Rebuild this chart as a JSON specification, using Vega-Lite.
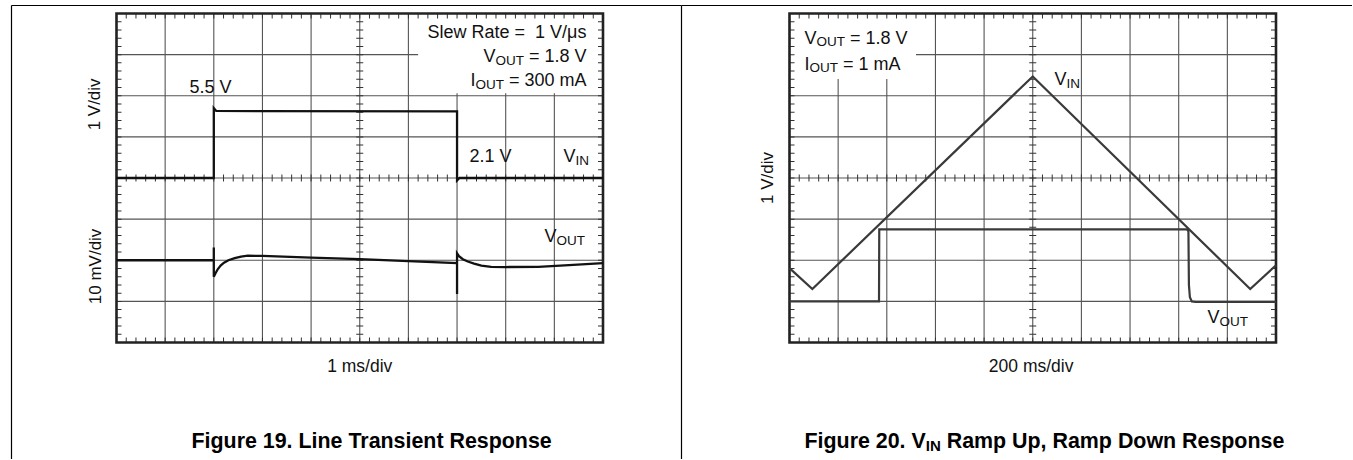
{
  "$schema": "https://vega.github.io/schema/vega-lite/v6.json",
  "background": "white",
  "padding": {"left": 11, "top": 5, "right": 0, "bottom": 0},
  "bounds": "flush",
  "spacing": 0,
  "config": {"view": {"stroke": null}, "font": "Liberation Sans"},
  "datasets": {
    "frame": [
      {"part": "gv", "x": 1, "y": -4, "y2": 4}, {"part": "gv", "x": 2, "y": -4, "y2": 4}, {"part": "gv", "x": 3, "y": -4, "y2": 4},
      {"part": "gv", "x": 4, "y": -4, "y2": 4}, {"part": "gv", "x": 5, "y": -4, "y2": 4}, {"part": "gv", "x": 6, "y": -4, "y2": 4},
      {"part": "gv", "x": 7, "y": -4, "y2": 4}, {"part": "gv", "x": 8, "y": -4, "y2": 4}, {"part": "gv", "x": 9, "y": -4, "y2": 4},
      {"part": "gh", "x": 0, "x2": 10, "y": -3}, {"part": "gh", "x": 0, "x2": 10, "y": -2}, {"part": "gh", "x": 0, "x2": 10, "y": -1},
      {"part": "gh", "x": 0, "x2": 10, "y": 0}, {"part": "gh", "x": 0, "x2": 10, "y": 1}, {"part": "gh", "x": 0, "x2": 10, "y": 2},
      {"part": "gh", "x": 0, "x2": 10, "y": 3},
      {"part": "tb", "x": 0, "x2": 10, "y": -4},
      {"part": "tt", "x": 0, "x2": 10, "y": 4},
      {"part": "tl", "x": 0, "y": -4, "y2": 4},
      {"part": "tr", "x": 10, "y": -4, "y2": 4},
      {"part": "ch", "x": 0, "x2": 10, "y": 0},
      {"part": "cv", "x": 5, "y": -4, "y2": 4},
      {"part": "box", "x": 0, "x2": 10, "y": -4, "y2": 4}
    ],
    "wb19": [{"x": 6.2, "x2": 10, "y": 2.06, "y2": 4}],
    "wb20": [{"x": 0, "x2": 2.6, "y": 2.41, "y2": 4}],
    "t19": [
      {"s": "VIN", "x": 0, "y": 0}, {"s": "VIN", "x": 2.0, "y": 0}, {"s": "VIN", "x": 2.0, "y": 1.70}, {"s": "VIN", "x": 2.05, "y": 1.63},
      {"s": "VIN", "x": 7.0, "y": 1.62}, {"s": "VIN", "x": 7.0, "y": -0.06}, {"s": "VIN", "x": 7.05, "y": 0}, {"s": "VIN", "x": 10, "y": 0},
      {"s": "VOUT", "x": 0, "y": -2.0}, {"s": "VOUT", "x": 2.0, "y": -2.0}, {"s": "VOUT", "x": 2.0, "y": -1.69}, {"s": "VOUT", "x": 2.0, "y": -2.40},
      {"s": "VOUT", "x": 2.03, "y": -2.33}, {"s": "VOUT", "x": 2.08, "y": -2.22}, {"s": "VOUT", "x": 2.14, "y": -2.13}, {"s": "VOUT", "x": 2.21, "y": -2.06},
      {"s": "VOUT", "x": 2.3, "y": -2.0}, {"s": "VOUT", "x": 2.43, "y": -1.95}, {"s": "VOUT", "x": 2.56, "y": -1.91}, {"s": "VOUT", "x": 2.7, "y": -1.89},
      {"s": "VOUT", "x": 3.0, "y": -1.895}, {"s": "VOUT", "x": 4.0, "y": -1.935}, {"s": "VOUT", "x": 5.0, "y": -1.975}, {"s": "VOUT", "x": 6.0, "y": -2.02},
      {"s": "VOUT", "x": 7.0, "y": -2.07}, {"s": "VOUT", "x": 7.0, "y": -2.82}, {"s": "VOUT", "x": 7.0, "y": -1.83}, {"s": "VOUT", "x": 7.04, "y": -1.9},
      {"s": "VOUT", "x": 7.12, "y": -1.975}, {"s": "VOUT", "x": 7.22, "y": -2.03}, {"s": "VOUT", "x": 7.35, "y": -2.08}, {"s": "VOUT", "x": 7.5, "y": -2.13},
      {"s": "VOUT", "x": 7.7, "y": -2.16}, {"s": "VOUT", "x": 8.0, "y": -2.165}, {"s": "VOUT", "x": 8.67, "y": -2.16}, {"s": "VOUT", "x": 9.3, "y": -2.12},
      {"s": "VOUT", "x": 10, "y": -2.07}
    ],
    "t20": [
      {"s": "VIN", "x": 0, "y": -2.19}, {"s": "VIN", "x": 0.47, "y": -2.70}, {"s": "VIN", "x": 5.0, "y": 2.47}, {"s": "VIN", "x": 9.47, "y": -2.70}, {"s": "VIN", "x": 10, "y": -2.12},
      {"s": "VOUT", "x": 0, "y": -3.0}, {"s": "VOUT", "x": 1.84, "y": -3.0}, {"s": "VOUT", "x": 1.845, "y": -1.25}, {"s": "VOUT", "x": 8.17, "y": -1.25},
      {"s": "VOUT", "x": 8.2, "y": -1.3}, {"s": "VOUT", "x": 8.21, "y": -2.6}, {"s": "VOUT", "x": 8.23, "y": -2.9}, {"s": "VOUT", "x": 8.27, "y": -3.0},
      {"s": "VOUT", "x": 8.35, "y": -3.01}, {"s": "VOUT", "x": 10, "y": -3.01}
    ],
    "txt19": [
      {"k": "a", "t": "Slew Rate =\u00a0 1 V/μs", "x": 6.393, "y": 3.514},
      {"k": "a", "t": "V", "x": 7.543, "y": 2.936},
      {"k": "s", "t": "OUT", "x": 7.789, "y": 2.936},
      {"k": "a", "t": "= 1.8 V", "x": 8.478, "y": 2.936},
      {"k": "a", "t": "I", "x": 7.277, "y": 2.353},
      {"k": "s", "t": "OUT", "x": 7.379, "y": 2.353},
      {"k": "a", "t": "= 300 mA", "x": 8.068, "y": 2.353},
      {"k": "a", "t": "5.5 V", "x": 1.5, "y": 2.19},
      {"k": "a", "t": "2.1 V", "x": 7.255, "y": 0.5},
      {"k": "a", "t": "V", "x": 9.188, "y": 0.5},
      {"k": "s", "t": "IN", "x": 9.435, "y": 0.5},
      {"k": "a", "t": "V", "x": 8.798, "y": -1.44},
      {"k": "s", "t": "OUT", "x": 9.045, "y": -1.44},
      {"k": "x", "t": "1 ms/div", "x": 5.0, "y": -4.6},
      {"k": "y", "t": "1 V/div", "x": -0.45, "y": 1.79},
      {"k": "y", "t": "10 mV/div", "x": -0.43, "y": -2.15},
      {"k": "c", "t": "Figure 19. Line Transient Response", "x": 1.542, "y": -6.42}
    ],
    "txt20": [
      {"k": "a", "t": "V", "x": 0.308, "y": 3.392},
      {"k": "s", "t": "OUT", "x": 0.555, "y": 3.392},
      {"k": "a", "t": "= 1.8 V", "x": 1.244, "y": 3.392},
      {"k": "a", "t": "I", "x": 0.308, "y": 2.748},
      {"k": "s", "t": "OUT", "x": 0.411, "y": 2.748},
      {"k": "a", "t": "= 1 mA", "x": 1.1, "y": 2.748},
      {"k": "a", "t": "V", "x": 5.447, "y": 2.371},
      {"k": "s", "t": "IN", "x": 5.694, "y": 2.371},
      {"k": "a", "t": "V", "x": 8.592, "y": -3.416},
      {"k": "s", "t": "OUT", "x": 8.839, "y": -3.416},
      {"k": "x", "t": "200 ms/div", "x": 4.967, "y": -4.6},
      {"k": "y", "t": "1 V/div", "x": -0.44, "y": 0.0},
      {"k": "c", "t": "Figure 20. V", "x": 0.308, "y": -6.42},
      {"k": "cs", "t": "IN", "x": 2.802, "y": -6.42},
      {"k": "c", "t": "Ramp Up, Ramp Down Response", "x": 3.232, "y": -6.42}
    ]
  },
  "hconcat": [
    {
      "width": 670,
      "height": 454,
      "encoding": {
        "x": {"field": "x", "type": "quantitative", "scale": {"domain": [-2.1685, 11.6033], "nice": false, "zero": false}, "axis": {"orient": "top", "ticks": false, "labels": false, "grid": false, "title": null, "domainColor": "#000", "domainWidth": 1.2}},
        "y": {"field": "y", "type": "quantitative", "scale": {"domain": [-6.8328, 4.2067], "nice": false, "zero": false}, "axis": {"orient": "left", "ticks": false, "labels": false, "grid": false, "title": null, "domainColor": "#000", "domainWidth": 1.2}}
      },
      "layer": [
        {"data": {"name": "frame"}, "transform": [{"filter": "datum.part === 'gv'"}], "mark": {"type": "rule", "color": "#555", "strokeWidth": 1.1}, "encoding": {"y2": {"field": "y2"}}},
        {"data": {"name": "frame"}, "transform": [{"filter": "datum.part === 'gh'"}], "mark": {"type": "rule", "color": "#555", "strokeWidth": 1.1}, "encoding": {"x2": {"field": "x2"}}},
        {"data": {"name": "wb19"}, "mark": {"type": "rect", "fill": "#ffffff"}, "encoding": {"x2": {"field": "x2"}, "y2": {"field": "y2"}}},
        {"data": {"name": "frame"}, "transform": [{"filter": "datum.part === 'tb'"}], "mark": {"type": "rule", "color": "#333", "strokeWidth": 5, "strokeDash": [1, 8.73], "strokeDashOffset": 0.5, "yOffset": -2.5}, "encoding": {"x2": {"field": "x2"}}},
        {"data": {"name": "frame"}, "transform": [{"filter": "datum.part === 'tt'"}], "mark": {"type": "rule", "color": "#333", "strokeWidth": 5, "strokeDash": [1, 8.73], "strokeDashOffset": 0.5, "yOffset": 2.5}, "encoding": {"x2": {"field": "x2"}}},
        {"data": {"name": "frame"}, "transform": [{"filter": "datum.part === 'tl'"}], "mark": {"type": "rule", "color": "#333", "strokeWidth": 5, "strokeDash": [1, 7.225], "strokeDashOffset": 0.5, "xOffset": 2.5}, "encoding": {"y2": {"field": "y2"}}},
        {"data": {"name": "frame"}, "transform": [{"filter": "datum.part === 'tr'"}], "mark": {"type": "rule", "color": "#333", "strokeWidth": 5, "strokeDash": [1, 7.225], "strokeDashOffset": 0.5, "xOffset": -2.5}, "encoding": {"y2": {"field": "y2"}}},
        {"data": {"name": "frame"}, "transform": [{"filter": "datum.part === 'ch'"}], "mark": {"type": "rule", "color": "#333", "strokeWidth": 7, "strokeDash": [1, 8.73], "strokeDashOffset": 0.5}, "encoding": {"x2": {"field": "x2"}}},
        {"data": {"name": "frame"}, "transform": [{"filter": "datum.part === 'cv'"}], "mark": {"type": "rule", "color": "#333", "strokeWidth": 7, "strokeDash": [1, 7.225], "strokeDashOffset": 0.5}, "encoding": {"y2": {"field": "y2"}}},
        {"data": {"name": "frame"}, "transform": [{"filter": "datum.part === 'box'"}], "mark": {"type": "rect", "fillOpacity": 0, "stroke": "#222", "strokeWidth": 2.6}, "encoding": {"x2": {"field": "x2"}, "y2": {"field": "y2"}}},
        {"data": {"name": "t19"}, "mark": {"type": "line", "color": "#111", "strokeWidth": 2.3}, "encoding": {"detail": {"field": "s"}, "order": {"value": null}}},
        {"data": {"name": "txt19"}, "transform": [{"filter": "datum.k === 'a'"}], "mark": {"type": "text", "font": "Liberation Sans", "align": "left", "baseline": "middle", "fontSize": 18, "color": "#111"}, "encoding": {"text": {"field": "t"}}},
        {"data": {"name": "txt19"}, "transform": [{"filter": "datum.k === 's'"}], "mark": {"type": "text", "font": "Liberation Sans", "align": "left", "baseline": "middle", "fontSize": 13.5, "dy": 3.5, "color": "#111"}, "encoding": {"text": {"field": "t"}}},
        {"data": {"name": "txt19"}, "transform": [{"filter": "datum.k === 'x'"}], "mark": {"type": "text", "font": "Liberation Sans", "align": "center", "baseline": "middle", "fontSize": 17.5, "color": "#111"}, "encoding": {"text": {"field": "t"}}},
        {"data": {"name": "txt19"}, "transform": [{"filter": "datum.k === 'y'"}], "mark": {"type": "text", "font": "Liberation Sans", "align": "center", "baseline": "middle", "angle": 270, "fontSize": 17, "color": "#111"}, "encoding": {"text": {"field": "t"}}},
        {"data": {"name": "txt19"}, "transform": [{"filter": "datum.k === 'c'"}], "mark": {"type": "text", "font": "Liberation Sans", "align": "left", "baseline": "middle", "fontSize": 21.4, "fontWeight": "bold", "color": "#000"}, "encoding": {"text": {"field": "t"}}}
      ]
    },
    {
      "width": 671,
      "height": 454,
      "encoding": {
        "x": {"field": "x", "type": "quantitative", "scale": {"domain": [-2.2302, 11.5622], "nice": false, "zero": false}, "axis": {"orient": "top", "ticks": false, "labels": false, "grid": false, "title": null, "domainColor": "#000", "domainWidth": 1.2}},
        "y": {"field": "y", "type": "quantitative", "scale": {"domain": [-6.8328, 4.2067], "nice": false, "zero": false}, "axis": {"orient": "left", "ticks": false, "labels": false, "grid": false, "title": null, "domainColor": "#000", "domainWidth": 1.2}}
      },
      "layer": [
        {"data": {"name": "frame"}, "transform": [{"filter": "datum.part === 'gv'"}], "mark": {"type": "rule", "color": "#555", "strokeWidth": 1.1}, "encoding": {"y2": {"field": "y2"}}},
        {"data": {"name": "frame"}, "transform": [{"filter": "datum.part === 'gh'"}], "mark": {"type": "rule", "color": "#555", "strokeWidth": 1.1}, "encoding": {"x2": {"field": "x2"}}},
        {"data": {"name": "wb20"}, "mark": {"type": "rect", "fill": "#ffffff"}, "encoding": {"x2": {"field": "x2"}, "y2": {"field": "y2"}}},
        {"data": {"name": "frame"}, "transform": [{"filter": "datum.part === 'tb'"}], "mark": {"type": "rule", "color": "#333", "strokeWidth": 5, "strokeDash": [1, 8.73], "strokeDashOffset": 0.5, "yOffset": -2.5}, "encoding": {"x2": {"field": "x2"}}},
        {"data": {"name": "frame"}, "transform": [{"filter": "datum.part === 'tt'"}], "mark": {"type": "rule", "color": "#333", "strokeWidth": 5, "strokeDash": [1, 8.73], "strokeDashOffset": 0.5, "yOffset": 2.5}, "encoding": {"x2": {"field": "x2"}}},
        {"data": {"name": "frame"}, "transform": [{"filter": "datum.part === 'tl'"}], "mark": {"type": "rule", "color": "#333", "strokeWidth": 5, "strokeDash": [1, 7.225], "strokeDashOffset": 0.5, "xOffset": 2.5}, "encoding": {"y2": {"field": "y2"}}},
        {"data": {"name": "frame"}, "transform": [{"filter": "datum.part === 'tr'"}], "mark": {"type": "rule", "color": "#333", "strokeWidth": 5, "strokeDash": [1, 7.225], "strokeDashOffset": 0.5, "xOffset": -2.5}, "encoding": {"y2": {"field": "y2"}}},
        {"data": {"name": "frame"}, "transform": [{"filter": "datum.part === 'ch'"}], "mark": {"type": "rule", "color": "#333", "strokeWidth": 7, "strokeDash": [1, 8.73], "strokeDashOffset": 0.5}, "encoding": {"x2": {"field": "x2"}}},
        {"data": {"name": "frame"}, "transform": [{"filter": "datum.part === 'cv'"}], "mark": {"type": "rule", "color": "#333", "strokeWidth": 7, "strokeDash": [1, 7.225], "strokeDashOffset": 0.5}, "encoding": {"y2": {"field": "y2"}}},
        {"data": {"name": "frame"}, "transform": [{"filter": "datum.part === 'box'"}], "mark": {"type": "rect", "fillOpacity": 0, "stroke": "#222", "strokeWidth": 2.6}, "encoding": {"x2": {"field": "x2"}, "y2": {"field": "y2"}}},
        {"data": {"name": "t20"}, "mark": {"type": "line", "color": "#3a3a3a", "strokeWidth": 2.2}, "encoding": {"detail": {"field": "s"}, "order": {"value": null}}},
        {"data": {"name": "txt20"}, "transform": [{"filter": "datum.k === 'a'"}], "mark": {"type": "text", "font": "Liberation Sans", "align": "left", "baseline": "middle", "fontSize": 18, "color": "#111"}, "encoding": {"text": {"field": "t"}}},
        {"data": {"name": "txt20"}, "transform": [{"filter": "datum.k === 's'"}], "mark": {"type": "text", "font": "Liberation Sans", "align": "left", "baseline": "middle", "fontSize": 13.5, "dy": 3.5, "color": "#111"}, "encoding": {"text": {"field": "t"}}},
        {"data": {"name": "txt20"}, "transform": [{"filter": "datum.k === 'x'"}], "mark": {"type": "text", "font": "Liberation Sans", "align": "center", "baseline": "middle", "fontSize": 17.5, "color": "#111"}, "encoding": {"text": {"field": "t"}}},
        {"data": {"name": "txt20"}, "transform": [{"filter": "datum.k === 'y'"}], "mark": {"type": "text", "font": "Liberation Sans", "align": "center", "baseline": "middle", "angle": 270, "fontSize": 17, "color": "#111"}, "encoding": {"text": {"field": "t"}}},
        {"data": {"name": "txt20"}, "transform": [{"filter": "datum.k === 'c'"}], "mark": {"type": "text", "font": "Liberation Sans", "align": "left", "baseline": "middle", "fontSize": 21.4, "fontWeight": "bold", "color": "#000"}, "encoding": {"text": {"field": "t"}}},
        {"data": {"name": "txt20"}, "transform": [{"filter": "datum.k === 'cs'"}], "mark": {"type": "text", "font": "Liberation Sans", "align": "left", "baseline": "middle", "fontSize": 15, "dy": 4, "fontWeight": "bold", "color": "#000"}, "encoding": {"text": {"field": "t"}}}
      ]
    }
  ]
}
